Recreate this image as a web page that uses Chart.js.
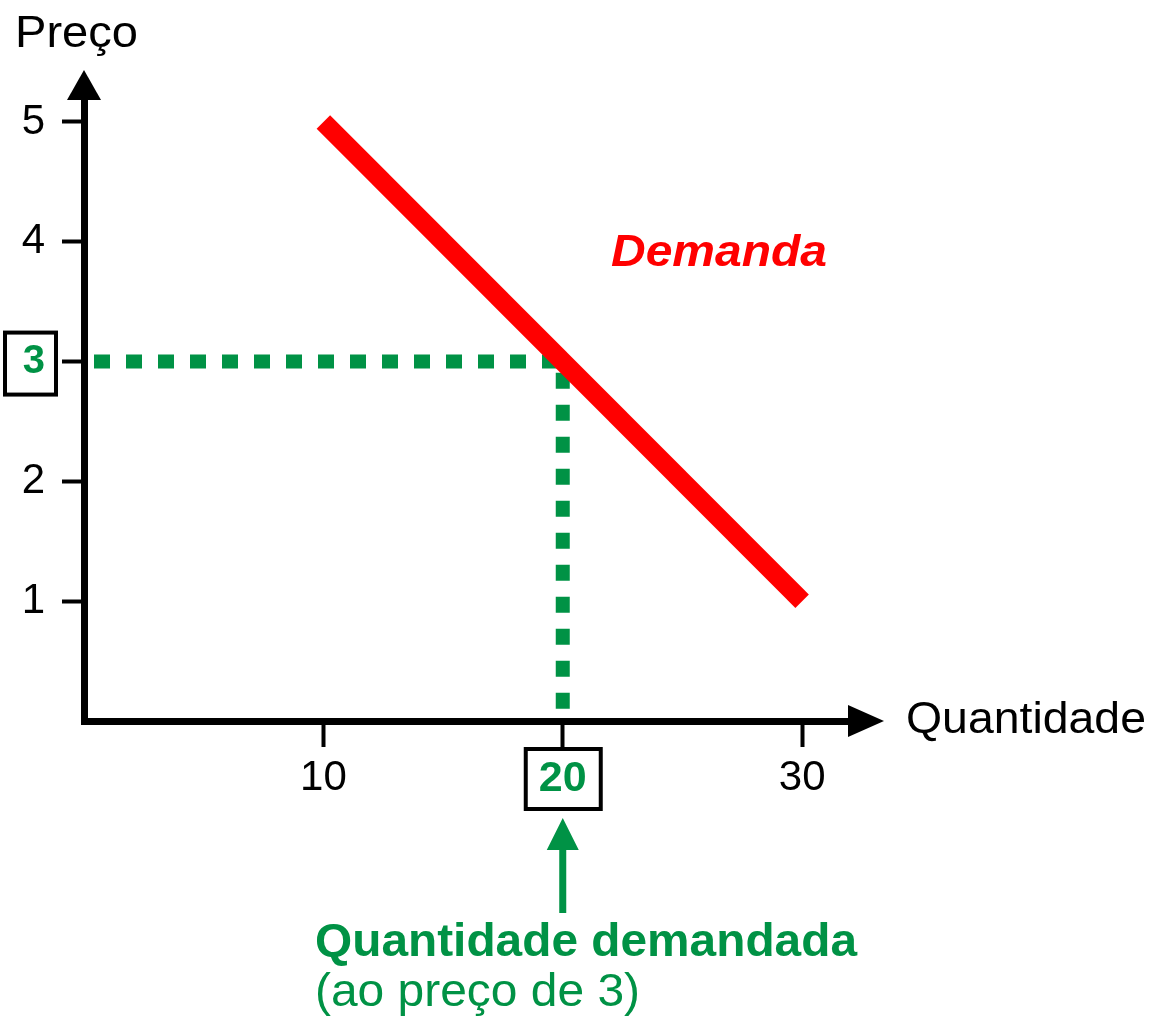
<!DOCTYPE html>
<html>
<head>
<meta charset="utf-8">
<script src="https://cdn.jsdelivr.net/npm/chart.js@4.4.0/dist/chart.umd.min.js"></script>
<style>
  body { margin: 0; background: #fff; }
  #wrap { width: 1164px; height: 1018px; }
</style>
</head>
<body>
<div id="wrap"><canvas id="myChart"></canvas></div>
<script>
// demand curve
var demandQty = [10, 30];
var demandPrice = [5, 1];
// reading at price 3
var refQty = [0, 20, 20];
var refPrice = [3, 3, 0];
var xTicks = [10, 20, 30];
var yTicks = [1, 2, 3, 4, 5];
var pickQty = 20;
var pickPrice = 3;

var GREEN = '#009245';
var FONT = "'Liberation Sans', Arial, sans-serif";

function pts(xs, ys) {
  return xs.map(function (x, i) { return { x: x, y: ys[i] }; });
}

// text fitted to the width seen in the picture
function fitText(ctx, txt, x, y, font, color, width) {
  ctx.save();
  ctx.font = font;
  ctx.fillStyle = color;
  ctx.textAlign = 'left';
  ctx.textBaseline = 'alphabetic';
  var w = ctx.measureText(txt).width;
  ctx.translate(x, y);
  ctx.scale(width / w, 1);
  ctx.fillText(txt, 0, 0);
  ctx.restore();
}

function tri(ctx, ax, ay, bx, by, cx, cy, color) {
  ctx.beginPath();
  ctx.moveTo(ax, ay); ctx.lineTo(bx, by); ctx.lineTo(cx, cy);
  ctx.closePath();
  ctx.fillStyle = color;
  ctx.fill();
}

var extras = {
  id: 'extras',
  afterDraw: function (chart) {
    var ctx = chart.ctx;
    var a = chart.chartArea;
    var xs = chart.scales.x, ys = chart.scales.y;
    var x0 = a.left, y0 = a.bottom;

    // axis arrow heads
    tri(ctx, x0, 70, x0 - 17, a.top + 2, x0 + 17, a.top + 2, '#000');
    tri(ctx, 884, y0, a.right - 2, y0 - 16, a.right - 2, y0 + 16, '#000');

    // boxes round the picked tick labels
    ctx.save();
    ctx.strokeStyle = '#000';
    ctx.lineWidth = 4;
    var py = ys.getPixelForValue(pickPrice);
    ctx.strokeRect(5, py - 29, 51, 62);
    var px = xs.getPixelForValue(pickQty);
    ctx.strokeRect(px - 37, y0 + 28, 75, 60);
    ctx.restore();

    // arrow up to the picked quantity
    ctx.save();
    ctx.fillStyle = GREEN;
    ctx.fillRect(px - 3.5, 848, 7, 65);
    tri(ctx, px, 818, px - 16, 850, px + 16, 850, GREEN);
    ctx.restore();

    fitText(ctx, 'Preço', 15, 47, '45px ' + FONT, '#000', 123);
    fitText(ctx, 'Quantidade', 906, 733, '44px ' + FONT, '#000', 240);
    fitText(ctx, 'Demanda', 611, 266, 'italic bold 44px ' + FONT, '#ff0000', 216);
    fitText(ctx, 'Quantidade demandada', 315, 956, 'bold 46px ' + FONT, GREEN, 542);
    fitText(ctx, '(ao preço de 3)', 315, 1006, '46px ' + FONT, GREEN, 325);
  }
};

var data = {
  datasets: [
    {
      label: 'Demanda',
      data: pts(demandQty, demandPrice),
      borderColor: '#ff0000',
      borderWidth: 19,
      borderCapStyle: 'butt',
      pointRadius: 0,
      showLine: true,
      clip: false
    },
    {
      label: 'Preço 3',
      data: pts(refQty, refPrice),
      borderColor: GREEN,
      borderWidth: 14,
      borderDash: [16, 16],
      borderDashOffset: 22,
      borderCapStyle: 'butt',
      borderJoinStyle: 'miter',
      pointRadius: 0,
      showLine: true,
      clip: false
    }
  ]
};

var options = {
  responsive: true,
  maintainAspectRatio: false,
  animation: false,
  layout: { padding: { top: 98, right: 314, left: 0, bottom: 0 } },
  plugins: {
    legend: { display: false },
    tooltip: { enabled: false }
  },
  scales: {
    x: {
      type: 'linear',
      min: 0,
      max: 32,
      afterFit: function (s) { s.height = 297; },
      afterBuildTicks: function (s) { s.ticks = xTicks.map(function (v) { return { value: v }; }); },
      border: { display: true, color: '#000', width: 7 },
      grid: { drawOnChartArea: false, tickLength: 26, tickWidth: 4, tickColor: '#000' },
      ticks: {
        padding: 6,
        maxRotation: 0,
        color: function (c) { return c.tick.value === pickQty ? GREEN : '#000'; },
        font: function (c) {
          return c.tick && c.tick.value === pickQty
            ? { family: FONT, size: 43, weight: 'bold' }
            : { family: FONT, size: 42 };
        },
        callback: function (v) { return String(v); }
      }
    },
    y: {
      type: 'linear',
      min: 0,
      max: 5.2,
      afterFit: function (s) { s.width = 84; },
      afterBuildTicks: function (s) { s.ticks = yTicks.map(function (v) { return { value: v }; }); },
      border: { display: true, color: '#000', width: 7 },
      grid: { drawOnChartArea: false, tickLength: 22, tickWidth: 4, tickColor: '#000' },
      ticks: {
        padding: 17,
        color: function (c) { return c.tick.value === pickPrice ? GREEN : '#000'; },
        font: function (c) {
          return c.tick && c.tick.value === pickPrice
            ? { family: FONT, size: 40, weight: 'bold' }
            : { family: FONT, size: 42 };
        },
        callback: function (v) { return String(v); }
      }
    }
  }
};

var ctx = document.getElementById('myChart').getContext('2d');
var demandChart = new Chart(ctx, {
  type: 'scatter',
  data: data,
  options: options,
  plugins: [extras]
});
</script>
</body>
</html>
